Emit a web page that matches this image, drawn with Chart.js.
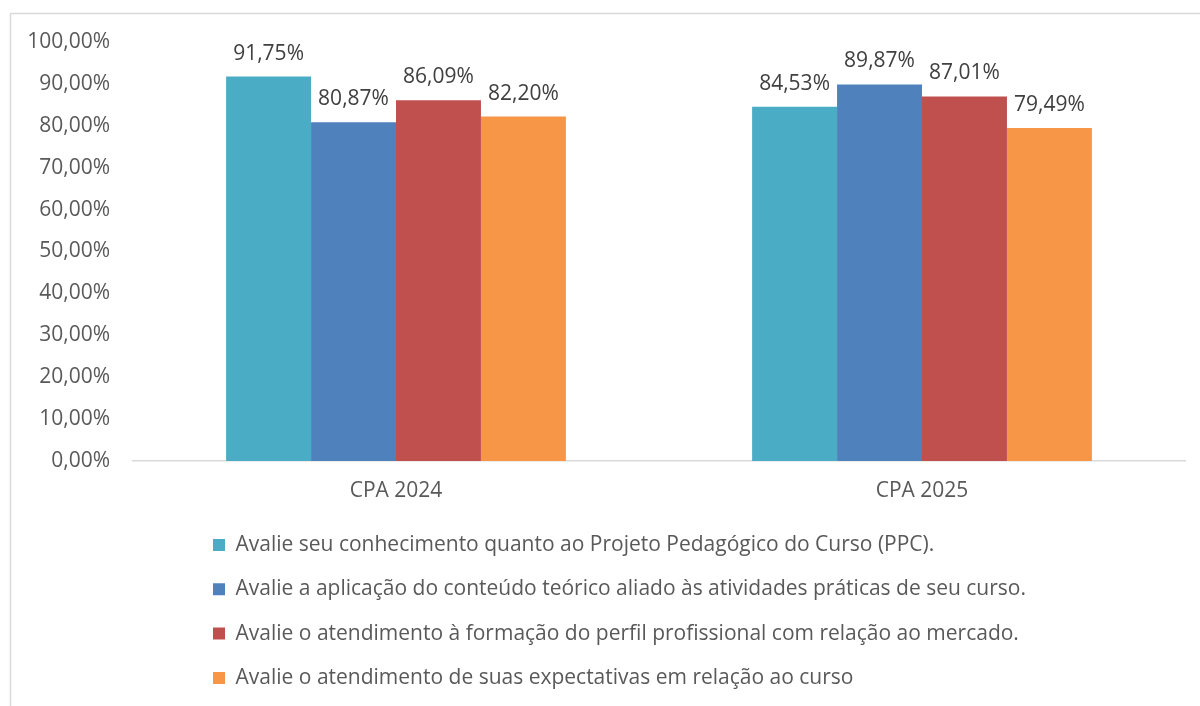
<!DOCTYPE html>
<html><head><meta charset="utf-8">
<script src="https://cdn.jsdelivr.net/npm/chart.js@4.4.1/dist/chart.umd.min.js"></script>
<style>html,body{margin:0;padding:0;background:#fff}#wrap{width:1200px;height:706px;position:relative}canvas{display:block}</style>
</head><body><div id="wrap"><canvas id="c" width="1200" height="706"></canvas></div>
<script>
const categories = ['CPA 2024', 'CPA 2025'];
const seriesNames = [
  'Avalie seu conhecimento quanto ao Projeto Pedagógico do Curso (PPC).',
  'Avalie a aplicação do conteúdo teórico aliado às atividades práticas de seu curso.',
  'Avalie o atendimento à formação do perfil profissional com relação ao mercado.',
  'Avalie o atendimento de suas expectativas em relação ao curso'
];
const ppcValues = [91.75, 84.53];
const teoricoValues = [80.87, 89.87];
const perfilValues = [86.09, 87.01];
const expectativasValues = [82.20, 79.49];
const yTickValues = [0, 10, 20, 30, 40, 50, 60, 70, 80, 90, 100];
const seriesColors = ['#4BACC6', '#4F81BD', '#C0504D', '#F79646'];

const fmt = v => v.toFixed(2).replace('.', ',') + '%';
const FONT = "'Open Sans', sans-serif";
const LEG_FONT = 21, LEG_PAD = 23.3;

const outerBorder = {
  id: 'outerBorder',
  beforeDraw(chart) {
    const ctx = chart.ctx;
    ctx.save();
    ctx.strokeStyle = '#d9d9d9';
    ctx.lineWidth = 1.5;
    ctx.beginPath();
    ctx.moveTo(10.5, 706);
    ctx.lineTo(10.5, 13.5);
    ctx.lineTo(1200, 13.5);
    ctx.stroke();
    ctx.restore();
  }
};

const barLabels = {
  id: 'barLabels',
  afterDatasetsDraw(chart) {
    const ctx = chart.ctx;
    ctx.save();
    ctx.font = '21px ' + FONT;
    ctx.fillStyle = '#404040';
    ctx.textAlign = 'center';
    ctx.textBaseline = 'middle';
    chart.data.datasets.forEach((ds, i) => {
      chart.getDatasetMeta(i).data.forEach((bar, j) => {
        ctx.fillText(fmt(ds.data[j]), bar.x, bar.y - 23);
      });
    });
    ctx.restore();
  }
};

const legendPlacer = {
  id: 'legendPlacer',
  afterLayout(chart) {
    const lg = chart.legend;
    if (!lg) return;
    const w = lg.width, h = lg.height;
    const left = 213 - LEG_PAD;
    const top = 545 - LEG_PAD - LEG_FONT / 2;
    lg.left = left; lg.right = left + w;
    lg.top = top; lg.bottom = top + h;
  }
};

const datasets = [ppcValues, teoricoValues, perfilValues, expectativasValues].map((d, i) => ({
  label: seriesNames[i],
  data: d,
  backgroundColor: seriesColors[i],
  borderWidth: 0,
  categoryPercentage: 0.646,
  barPercentage: 1.0
}));

new Chart(document.getElementById('c'), {
  type: 'bar',
  data: { labels: categories, datasets },
  options: {
    responsive: false,
    animation: false,
    devicePixelRatio: 1,
    layout: { padding: { left: 0, right: 15, top: 42, bottom: 0 } },
    scales: {
      x: {
        grid: { display: false, drawTicks: false },
        border: { display: true, color: '#d9d9d9', width: 1.5 },
        ticks: { color: '#595959', font: { size: 21, family: FONT }, padding: 17 },
        afterFit(s) { s.height = 245; }
      },
      y: {
        min: 0, max: 100,
        afterBuildTicks(s) { s.ticks = yTickValues.map(v => ({ value: v })); },
        grid: { display: false, drawTicks: false },
        border: { display: false },
        ticks: { color: '#595959', font: { size: 21, family: FONT }, padding: 23, callback: v => fmt(v) },
        afterFit(s) { s.width = 133; }
      }
    },
    plugins: {
      legend: {
        position: 'chartArea',
        align: 'start',
        labels: { boxWidth: 12, boxHeight: 12, padding: LEG_PAD, color: '#595959', font: { size: LEG_FONT, family: FONT } }
      },
      tooltip: { enabled: false }
    }
  },
  plugins: [outerBorder, barLabels, legendPlacer]
});
</script>
</body></html>
